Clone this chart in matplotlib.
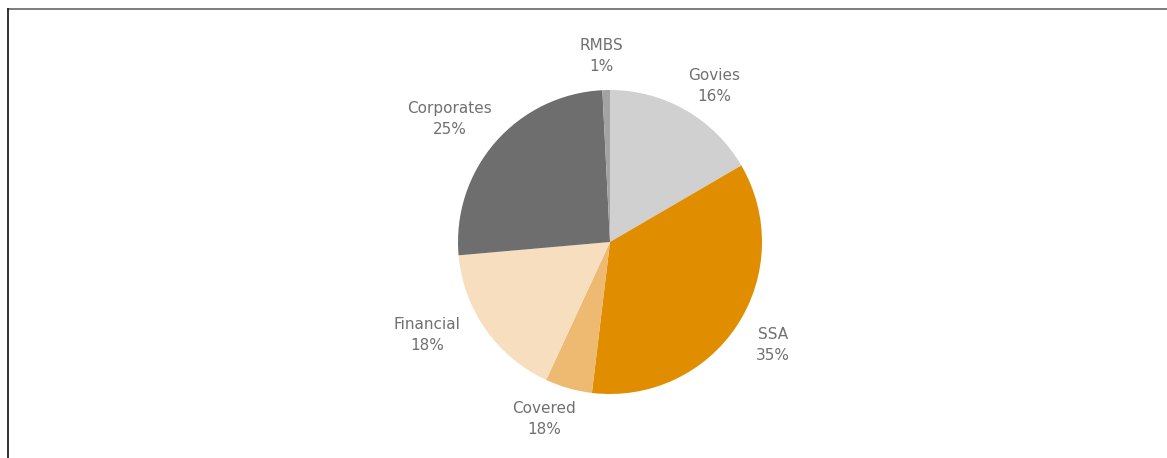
import matplotlib
matplotlib.use("Agg")
import matplotlib.pyplot as plt
from matplotlib.lines import Line2D

categories = ["Govies", "SSA", "Covered", "Financial", "Corporates", "RMBS"]
values = [16.6, 35.3, 5.0, 16.7, 25.6, 0.8]
pct_labels = ["16%", "35%", "18%", "18%", "25%", "1%"]
colors = ["#D0D0D0", "#E08E00", "#EEB970", "#F7DEBF", "#6E6E6E", "#A3A3A3"]
# label centres in pixel coordinates (x, y from top)
label_pos = [(714, 86), (773, 345), (544, 419), (427, 335), (450, 119), (601, 56)]

W, H = 1167, 458
fig = plt.figure(figsize=(W / 100, H / 100), dpi=100)
ax = fig.add_axes([0, 0, 1, 1])
ax.set_xlim(0, W)
ax.set_ylim(0, H)
ax.set_aspect("equal")
ax.axis("off")

cx, cy, r = 610, H - 242, 152
ax.pie(values, colors=colors, startangle=90, counterclock=False,
       center=(cx, cy), radius=r, frame=True,
       wedgeprops=dict(linewidth=0))
ax.set_xlim(0, W)
ax.set_ylim(0, H)
ax.axis("off")

for cat, pct, (lx, ly) in zip(categories, pct_labels, label_pos):
    ax.text(lx, H - ly, f"{cat}\n{pct}", ha="center", va="center",
            fontsize=11, color="#707070", family="DejaVu Sans",
            linespacing=1.45)

# chart frame (top and left edges)
fig.add_artist(Line2D([7.5 / W, 1], [1 - 8.5 / H, 1 - 8.5 / H],
                      transform=fig.transFigure, color="#666666", lw=1.2))
fig.add_artist(Line2D([7.5 / W, 7.5 / W], [0, 1 - 8.5 / H],
                      transform=fig.transFigure, color="#111111", lw=1.2))

fig.savefig("out.png", dpi=100)
